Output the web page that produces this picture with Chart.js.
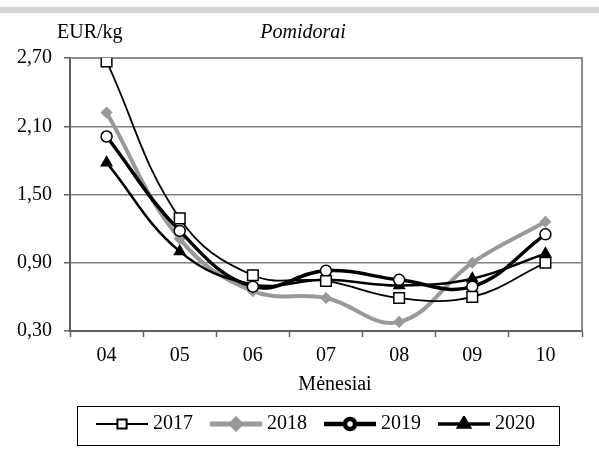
<!DOCTYPE html>
<html>
<head>
<meta charset="utf-8">
<script src="https://cdn.jsdelivr.net/npm/chart.js@4.4.1/dist/chart.umd.min.js"></script>
<style>
  body { margin: 0; background: #fff; }
  #wrap { position: relative; width: 599px; height: 454px; }
  #strip { position: absolute; left: 0; top: 7px; width: 599px; height: 6px; background: #d4d4d4; }
  canvas { position: absolute; left: 0; top: 0; }
</style>
</head>
<body>
<div id="wrap">
  <div id="strip"></div>
  <canvas id="chart" width="599" height="454"></canvas>
</div>
<script>
// months (x categories)
const months = ['04', '05', '06', '07', '08', '09', '10'];
const yTicks = [0.30, 0.90, 1.50, 2.10, 2.70];

// EUR/kg per year
const y2017 = [2.67, 1.29, 0.79, 0.74, 0.59, 0.60, 0.90];
const y2018 = [2.22, 1.11, 0.65, 0.59, 0.38, 0.90, 1.26];
const y2019 = [2.01, 1.18, 0.69, 0.83, 0.75, 0.69, 1.15];
const y2020 = [1.78, 1.00, 0.71, 0.75, 0.70, 0.76, 0.98];

const serif = 'Liberation Serif, Times New Roman, serif';

// small canvas used as legend symbol: line with marker in the middle
function legendIcon(color, lineW, style, radius, fill, border) {
    const c = document.createElement('canvas');
    c.width = 52;
    c.height = 16;
    const g = c.getContext('2d');
    g.strokeStyle = color;
    g.lineWidth = lineW;
    g.beginPath();
    g.moveTo(0, 8);
    g.lineTo(52, 8);
    g.stroke();
    g.fillStyle = fill;
    g.strokeStyle = border;
    Chart.helpers.drawPoint(g, {pointStyle: style, radius: radius, borderWidth: 1.5}, 26, 8);
    return c;
}

const icons = [
    legendIcon('#000', 2, 'rect', 6.5, '#fff', '#000'),
    legendIcon('#999', 5, 'rectRot', 4.5, '#999', '#999'),
    legendIcon('#000', 4.5, 'circle', 5, '#fff', '#000'),
    legendIcon('#000', 3.5, 'triangle', 6, '#000', '#000')
];

const LEGEND_SHIFT = 27;

const extras = {
    id: 'extras',
    beforeDraw(chart) {
        // legend in the reference sits a bit right of the canvas centre
        const L = chart.legend;
        L.left += LEGEND_SHIFT;
        L.right += LEGEND_SHIFT;
        (L.legendHitBoxes || []).forEach(h => { h.left += LEGEND_SHIFT; });
    },
    beforeDatasetsDraw(chart) {
        const {ctx, chartArea: a} = chart;
        ctx.save();
        ctx.strokeStyle = '#8a8a8a';
        ctx.lineWidth = 2;
        ctx.beginPath();
        ctx.moveTo(a.left, a.top);
        ctx.lineTo(a.right, a.top);
        ctx.lineTo(a.right, a.bottom);
        ctx.stroke();
        ctx.restore();
    },
    afterDraw(chart) {
        const {ctx, chartArea: a} = chart;
        ctx.save();
        ctx.fillStyle = '#000';
        ctx.textBaseline = 'middle';
        ctx.font = '20px ' + serif;
        ctx.textAlign = 'left';
        ctx.fillText('EUR/kg', a.left - 13, 33);
        ctx.textAlign = 'center';
        ctx.fillText('Mėnesiai', 335, a.bottom + 54);
        ctx.font = 'italic 20px ' + serif;
        ctx.fillText('Pomidorai', 303, 33);

        // frame around the legend
        const boxes = chart.legend.legendHitBoxes;
        if (boxes && boxes.length) {
            const first = boxes[0];
            const last = boxes[boxes.length - 1];
            ctx.strokeStyle = '#000';
            ctx.lineWidth = 1;
            ctx.strokeRect(Math.round(first.left - 24) + 0.5, Math.round(first.top - 8) + 0.5,
                Math.round(last.left + last.width + 24 - first.left + 24), 39);
        }
        ctx.restore();
    }
};

function ds(label, data, color, width, style, radius, fill, order) {
    return {
        label: label,
        data: data,
        borderColor: color,
        borderWidth: width,
        pointStyle: style,
        pointRadius: radius,
        pointHoverRadius: radius,
        pointBackgroundColor: fill,
        pointBorderColor: color,
        pointBorderWidth: 1.5,
        tension: 0.4,
        order: order
    };
}

new Chart(document.getElementById('chart'), {
    type: 'line',
    data: {
        labels: months,
        datasets: [
            ds('2017', y2017, '#000', 1.8, 'rect', 7.5, '#fff', 0),
            ds('2018', y2018, '#999', 4, 'rectRot', 5, '#999', 3),
            ds('2019', y2019, '#000', 3.5, 'circle', 5.5, '#fff', 1),
            ds('2020', y2020, '#000', 2.5, 'triangle', 6, '#000', 2)
        ]
    },
    options: {
        responsive: false,
        animation: false,
        events: [],
        layout: {padding: {left: 0, right: 17, top: 58, bottom: 10}},
        plugins: {
            tooltip: {enabled: false},
            legend: {
                position: 'bottom',
                labels: {
                    usePointStyle: true,
                    pointStyleWidth: 42,
                    padding: 22,
                    color: '#000',
                    font: {family: serif, size: 20},
                    sort: (a, b) => a.datasetIndex - b.datasetIndex,
                    generateLabels(chart) {
                        return chart.data.datasets.map((d, i) => ({
                            text: d.label,
                            datasetIndex: i,
                            pointStyle: icons[i],
                            fillStyle: d.borderColor,
                            strokeStyle: d.borderColor,
                            lineWidth: 0,
                            hidden: false,
                            fontColor: '#000'
                        }));
                    }
                }
            }
        },
        scales: {
            x: {
                offset: true,
                grid: {offset: true, drawOnChartArea: false, drawTicks: true, tickLength: 6, tickColor: '#606060', tickWidth: 1.5},
                border: {color: '#606060', width: 2},
                ticks: {color: '#000', font: {family: serif, size: 20}, padding: 7, maxRotation: 0},
                afterFit(scale) { scale.height = 61; }
            },
            y: {
                min: 0.3,
                max: 2.7,
                afterBuildTicks(scale) { scale.ticks = yTicks.map(v => ({value: v})); },
                grid: {color: '#808080', lineWidth: 1.5, drawTicks: true, tickLength: 6, tickColor: '#606060'},
                border: {color: '#606060', width: 2},
                ticks: {
                    color: '#000',
                    font: {family: serif, size: 20},
                    padding: 12,
                    callback: v => v.toFixed(2).replace('.', ',')
                },
                afterFit(scale) { scale.width = 70; }
            }
        }
    },
    plugins: [extras]
});
</script>
</body>
</html>
